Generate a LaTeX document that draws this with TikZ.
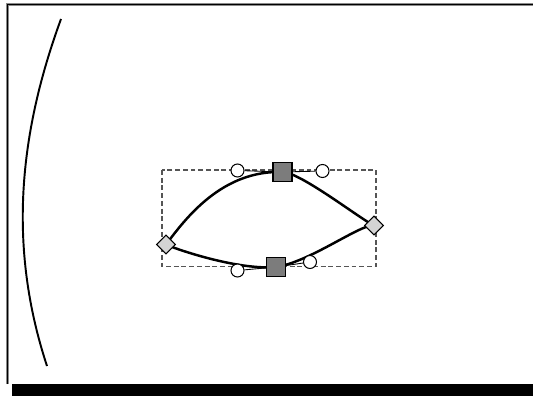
\documentclass[tikz,border=0pt]{standalone}
\usepackage{xcolor}
\usepackage{tikz}
\usetikzlibrary{shapes.geometric, backgrounds}
\definecolor{framegray}{HTML}{8A8A8A}
\definecolor{knotgray}{HTML}{7C7C7C}
\definecolor{cornergray}{HTML}{D4D4D4}
\definecolor{boxgray}{HTML}{555555}

\begin{document}
\begin{tikzpicture}[x=0.02cm, y=-0.02cm]
    % Styles
    \tikzstyle{smoothknot} = [rectangle, draw, fill=knotgray, inner sep=0pt, minimum size=0.38cm, line width=0.6pt]
    \tikzstyle{cornerknot} = [diamond, draw, fill=cornergray, inner sep=0pt, minimum width=0.38cm, minimum height=0.38cm, line width=0.6pt]
    \tikzstyle{handle} = [circle, draw, fill=white, inner sep=0pt, minimum size=0.26cm, line width=0.6pt]
    \tikzstyle{curve} = [draw, line width=1.4pt, black]
    \tikzstyle{handleline} = [draw, line width=0.5pt, black]
    \tikzstyle{bboxline} = [draw, boxgray, line width=0.6pt, dash pattern=on 2.8pt off 1.6pt]

    \useasboundingbox (0,0) rectangle (533,395);

    % Frame
    \draw[framegray, line width=2.2pt] (7.5,384) -- (7.5,4.5) -- (545,4.5);
    \draw[black, line width=0.7pt] (7.5,384) -- (7.5,4.5) -- (545,4.5);
    \fill[black] (12,384) rectangle (540,397);

    % Left stroke
    \draw[line width=1.1pt] (61,19) .. controls (18.5,135) and (8,247.5) .. (47,366);

    % Nodes
    \node [cornerknot] (left) at (166,244.5) {};
    \node [cornerknot] (right) at (374,225.5) {};
    \node [smoothknot] (top) at (282.5,172) {};
    \node [smoothknot] (bottom) at (276,267) {};
    \node [handle] (topin) at (237.5,170.5) {};
    \node [handle] (topout) at (322.5,171) {};
    \node [handle] (botin) at (237.5,270.5) {};
    \node [handle] (botout) at (310,262) {};

    % Paths
    \begin{pgfonlayer}{background}
        \path [bboxline] (162,170) rectangle (376,266.5);
        \path [handleline] (topin) -- (top) -- (topout);
        \path [handleline] (botin) -- (bottom) -- (botout);
        \path [curve] (left.center) .. controls +(19.5,-26) and +(-60.5,-2) .. (top.center);
        \path [curve] (top.center) .. controls +(17.5,0) and +(-13,-6) .. (right.center);
        \path [curve] (left.center) .. controls +(8,4) and +(-38.5,3.5) .. (bottom.center);
        \path [curve] (bottom.center) .. controls +(34,-5) and +(-13,-2) .. (right.center);
    \end{pgfonlayer}
\end{tikzpicture}
\end{document}
